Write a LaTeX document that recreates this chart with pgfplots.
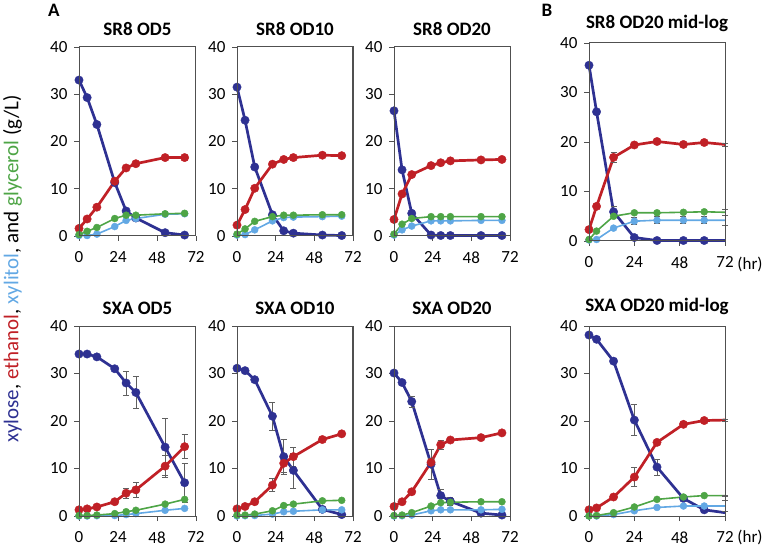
\documentclass[border=0pt]{standalone}
\usepackage{pgfplots}
\pgfplotsset{compat=1.18}
\usepackage{fontspec}
\setmainfont{Carlito}
\definecolor{cB}{RGB}{46,49,146}
\definecolor{cR}{RGB}{192,32,38}
\definecolor{cG}{RGB}{78,165,70}
\definecolor{cL}{RGB}{98,168,228}
\definecolor{cAx}{RGB}{80,80,80}
\pgfplotsset{
  panel/.style={scale only axis, anchor=south west, clip=false,
    xmin=0, xmax=72, ymin=0, ymax=40,
    xtick={0,24,48,72}, ytick={0,10,20,30,40},
    xtick pos=bottom, ytick pos=left,
    tick align=outside, major tick length=5pt,
    tick style={cAx, line width=0.8pt},
    axis line style={cAx, line width=1pt},
    ticklabel style={font=\fontsize{17}{19}\selectfont},
    xticklabel style={yshift=-7pt},
    yticklabel style={xshift=-3pt},
    /pgf/number format/assume math mode=true,
    title style={font=\bfseries\fontsize{19}{22}\selectfont, yshift=2pt},
  },
  sB/.style={color=cB, line width=2.7pt, mark=*, mark size=4.2pt, mark options={line width=0.4pt, fill=cB}},
  sR/.style={color=cR, line width=2.7pt, mark=*, mark size=4.2pt, mark options={line width=0.4pt, fill=cR}},
  sG/.style={color=cG, line width=1.6pt, mark=*, mark size=3.5pt, mark options={line width=0.4pt, fill=cG}},
  sL/.style={color=cL, line width=1.6pt, mark=*, mark size=3.5pt, mark options={line width=0.4pt, fill=cL}},
  eb/.style={/pgfplots/error bars/.cd, y dir=both, y explicit,
    error bar style={gray!75!black, line width=0.6pt},
    error mark options={rotate=90, mark size=3pt, gray!75!black, line width=0.6pt}, /pgfplots/.cd},
  nl/.style={mark indices={1,2,3,4,5,6,7}},
}
\begin{document}
\begin{tikzpicture}
\useasboundingbox (0,0) rectangle (762pt,546pt);
% ---------- Row 1 ----------
\begin{axis}[panel, name=a1, at={(79pt,310pt)}, width=117pt, height=189pt, title={SR8 OD5}]
\addplot[sB] coordinates {(0,33.0)(5,29.3)(11,23.6)(22,11.3)(29,5.3)(35,3.8)(53,0.7)(65,0.2)};
\addplot[sR] coordinates {(0,1.6)(5,3.6)(11,6.1)(22,11.6)(29,14.4)(35,15.3)(53,16.6)(65,16.6)};
\addplot[sL] coordinates {(0,0.1)(5,0.1)(11,0.4)(22,2.0)(29,3.3)(35,3.7)(53,4.6)(65,4.7)};
\addplot[sG] coordinates {(0,0.3)(5,1.0)(11,1.8)(22,3.7)(29,4.4)(35,4.4)(53,4.7)(65,4.8)};
\end{axis}
\begin{axis}[panel, name=a2, at={(237pt,310pt)}, width=116pt, height=189pt, title={SR8 OD10}]
\addplot[sB] coordinates {(0,31.5)(5,24.5)(11,14.6)(22,4.5)(29,1.1)(35,0.6)(53,0.2)(65,0.1)};
\addplot[sR] coordinates {(0,2.3)(5,5.6)(11,10.1)(22,15.2)(29,16.2)(35,16.6)(53,17.1)(65,17.0)};
\addplot[sL] coordinates {(0,0.2)(5,0.3)(11,1.3)(22,3.2)(29,3.9)(35,4.0)(53,4.1)(65,4.2)};
\addplot[sG] coordinates {(0,0.4)(5,1.5)(11,3.1)(22,4.1)(29,4.4)(35,4.4)(53,4.5)(65,4.5)};
\end{axis}
\begin{axis}[panel, name=a3, at={(394pt,310pt)}, width=116pt, height=189pt, title={SR8 OD20}]
\addplot[sB] coordinates {(0,26.5)(5,14.0)(11,4.8)(23,0.2)(29,0.1)(35,0.1)(54,0.1)(67,0.1)};
\addplot[sR] coordinates {(0,3.5)(5,8.9)(11,13.0)(23,14.9)(29,15.5)(35,15.9)(54,16.1)(67,16.2)};
\addplot[sL] coordinates {(0,0.2)(5,1.3)(11,2.1)(23,3.2)(29,3.2)(35,3.2)(54,3.3)(67,3.3)};
\addplot[sG] coordinates {(0,0.4)(5,2.5)(11,3.7)(23,4.1)(29,4.1)(35,4.1)(54,4.1)(67,4.1)};
\end{axis}
\begin{axis}[panel, name=a4, at={(589pt,305pt)}, width=136pt, height=198pt, title={SR8 OD20 mid-log}]
\addplot[sB, nl, eb] coordinates {(0,35.5)(4,26.1)(13,5.9) +- (0,1.2)(24,0.7)(36,0.1)(50,0.1)(61,0.1)(72,0.1)};
\addplot[sR, nl, eb] coordinates {(0,2.3)(4,7.0)(13,16.9) +- (0,1.0)(24,19.4)(36,20.1)(50,19.5)(61,19.9)(72,19.5) +- (0,0.3)};
\addplot[sL, nl, eb] coordinates {(0,0.2)(4,0.3)(13,2.6)(24,4.0) +- (0,0.7)(36,4.2) +- (0,0.7)(50,4.2) +- (0,0.7)(61,4.2) +- (0,0.7)(72,4.2) +- (0,1.0)};
\addplot[sG, nl, eb] coordinates {(0,0.3)(4,2.0)(13,5.0)(24,5.7)(36,5.7)(50,5.8)(61,5.9)(72,5.8) +- (0,0.6)};
\end{axis}
% ---------- Row 2 ----------
\begin{axis}[panel, name=b1, at={(79pt,30pt)}, width=117pt, height=190pt, title={SXA OD5}]
\addplot[sB, eb] coordinates {(0,34.1)(5,34.1)(11,33.5)(22,31.0) +- (0,0.4)(29,28.0) +- (0,2.5)(35,26.0) +- (0,3.4)(53,14.5) +- (0,6.0)(65,7.0) +- (0,4.2)};
\addplot[sR, eb] coordinates {(0,1.3)(5,1.5)(11,1.9)(22,3.0)(29,4.8) +- (0,1.0)(35,5.5) +- (0,1.6)(53,10.5) +- (0,2.3)(65,14.6) +- (0,2.5)};
\addplot[sL] coordinates {(0,0)(5,0)(11,0.05)(22,0.1)(29,0.3)(35,0.5)(53,1.2)(65,1.6)};
\addplot[sG] coordinates {(0,0.1)(5,0.1)(11,0.2)(22,0.5)(29,0.9)(35,1.2)(53,2.5)(65,3.5)};
\end{axis}
\begin{axis}[panel, name=b2, at={(237pt,30pt)}, width=116pt, height=190pt, title={SXA OD10}]
\addplot[sB, eb] coordinates {(0,31.1)(5,30.6)(11,28.7)(22,21.0) +- (0,2.9)(29,12.5) +- (0,3.7)(35,9.6) +- (0,3.7)(53,1.4)(65,0.3)};
\addplot[sR, eb] coordinates {(0,1.5)(5,2.0)(11,3.0)(22,6.5) +- (0,1.4)(29,11.1) +- (0,1.8)(35,12.5) +- (0,2.0)(53,16.1)(65,17.3)};
\addplot[sL] coordinates {(0,0)(5,0.05)(11,0.1)(22,0.4)(29,0.9)(35,1.0)(53,1.3)(65,1.3)};
\addplot[sG] coordinates {(0,0.2)(5,0.2)(11,0.4)(22,1.1)(29,2.2)(35,2.5)(53,3.2)(65,3.3)};
\end{axis}
\begin{axis}[panel, name=b3, at={(394pt,30pt)}, width=116pt, height=190pt, title={SXA OD20}]
\addplot[sB, eb] coordinates {(0,30.1)(5,28.1)(11,24.1) +- (0,1.2)(23,10.9) +- (0,3.2)(29,4.3) +- (0,1.4)(35,3.1) +- (0,0.8)(54,0.6)(67,0.2)};
\addplot[sR, eb] coordinates {(0,2.0)(5,3.0)(11,5.1)(23,11.3) +- (0,0.8)(29,15.0) +- (0,0.9)(35,16.0)(54,16.5)(67,17.5)};
\addplot[sL] coordinates {(0,0)(5,0.05)(11,0.2)(23,1.1)(29,1.3)(35,1.3)(54,1.3)(67,1.4)};
\addplot[sG] coordinates {(0,0.1)(5,0.2)(11,0.7)(23,2.1)(29,2.8)(35,2.9)(54,3.0)(67,3.0)};
\end{axis}
\begin{axis}[panel, name=b4, at={(589pt,30pt)}, width=136pt, height=190pt, title={SXA OD20 mid-log}]
\addplot[sB, nl, eb] coordinates {(0,38.1)(4,37.2)(13,32.6)(24,20.2) +- (0,3.3)(36,10.3) +- (0,1.7)(50,3.7)(61,1.3)(72,0.7)};
\addplot[sR, nl, eb] coordinates {(0,1.3)(4,1.7)(13,4.0)(24,8.2) +- (0,2.0)(36,15.5)(50,19.3)(61,20.1)(72,20.2) +- (0,0.2)};
\addplot[sL, nl, eb] coordinates {(0,0)(4,0)(13,0.3)(24,1.1)(36,1.8)(50,2.1)(61,2.1)(72,2.1) +- (0,1.2)};
\addplot[sG, nl, eb] coordinates {(0,0.0)(4,0.1)(13,0.7)(24,1.9)(36,3.5)(50,4.0)(61,4.3)(72,4.3) +- (0,0.1)};
\end{axis}
% ---------- frames ----------
\foreach \n in {a1,a2,a3,a4,b1,b2,b3,b4}
  \draw[cAx, line width=1pt] (\n.south west) rectangle (\n.north east);
% ---------- labels ----------
\node[font=\bfseries\fontsize{19}{22}\selectfont] at (54pt,536pt) {A};
\node[font=\bfseries\fontsize{19}{22}\selectfont] at (547pt,536pt) {B};
\node[font=\fontsize{17}{19}\selectfont] at (750pt,282pt) {(hr)};
\node[font=\fontsize{17}{19}\selectfont] at (750pt,9pt) {(hr)};
\node[rotate=90, font=\fontsize{21}{24}\selectfont] at (12.5pt,277pt) {\textcolor{cB}{xylose}, \textcolor{cR}{ethanol}, \textcolor{cL}{xylitol}, and \textcolor{cG}{glycerol} (g/L)};
\end{tikzpicture}
\end{document}
